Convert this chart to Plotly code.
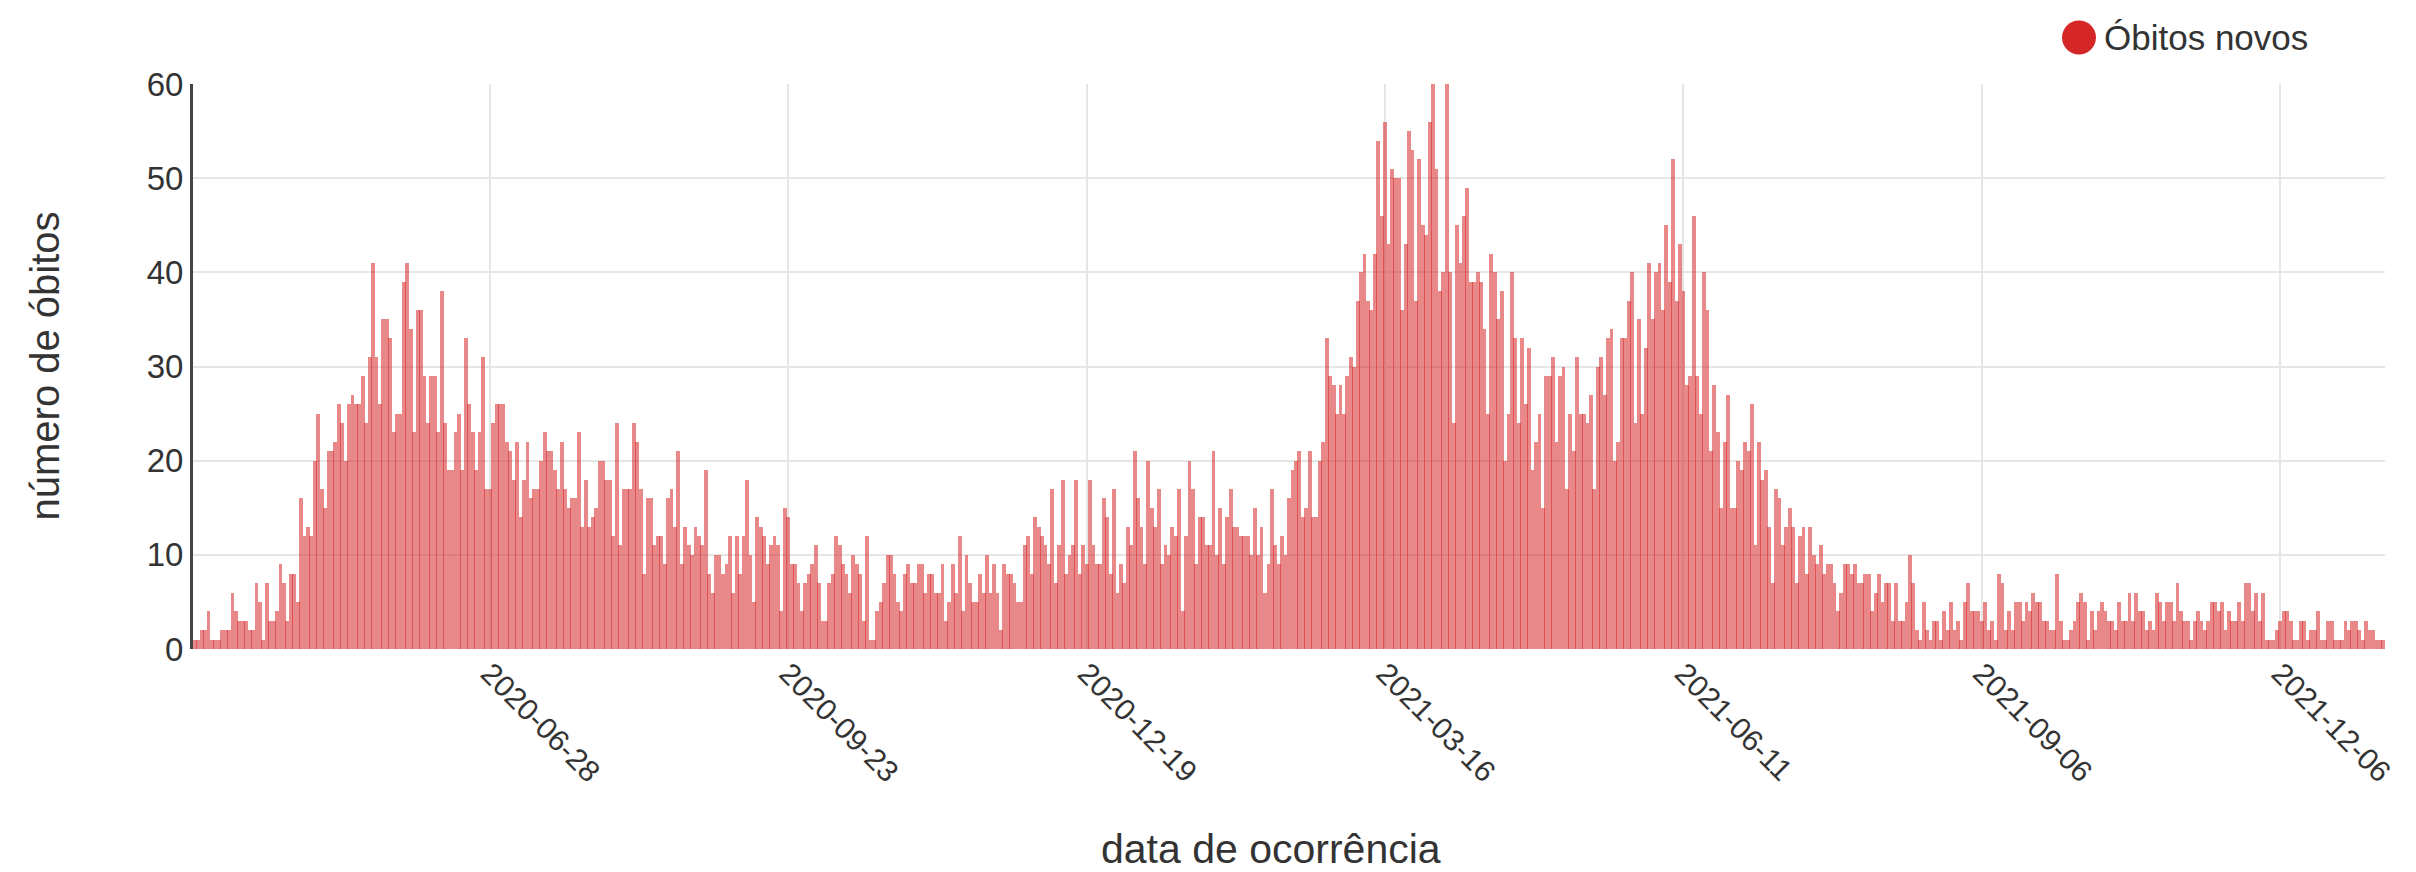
import pandas as pd
import plotly.graph_objects as go

# ---- data -------------------------------------------------------------
# first recorded day and last recorded day (one bar per recorded day)
DATA_INICIO = "2020-04-03"
DATA_FIM = "2022-01-05"
# days without record (no bar / no category on the axis)
DIAS_SEM_REGISTRO = ["2021-10-03", "2021-10-24", "2021-11-14", "2021-11-28"]

# new deaths per recorded day, split by the period between tick labels
obitos_ate_2020_06_27 = [
    1, 1, 2, 2, 4, 1, 1, 1, 2, 2, 2, 6, 4, 3, 3, 3, 2, 2, 7, 5,
    1, 7, 3, 3, 4, 9, 7, 3, 8, 8, 5, 16, 12, 13, 12, 20, 25, 17, 15, 21,
    21, 22, 26, 24, 20, 26, 27, 26, 26, 29, 24, 31, 41, 31, 26, 35, 35, 33, 23, 25,
    25, 39, 41, 34, 23, 36, 36, 29, 24, 29, 29, 23, 38, 24, 19, 19, 23, 25, 19, 33,
    26, 23, 19, 23, 31, 17]
obitos_2020_06_28 = [
    17, 24, 26, 26, 26, 22, 21, 18, 22, 14, 18, 22, 16, 17, 17, 20, 23, 21, 21, 19,
    17, 22, 17, 15, 16, 16, 23, 13, 18, 13, 14, 15, 20, 20, 18, 18, 12, 24, 11, 17,
    17, 17, 24, 22, 17, 8, 16, 16, 11, 12, 12, 9, 16, 17, 13, 21, 9, 13, 11, 10,
    13, 12, 11, 19, 8, 6, 10, 10, 8, 9, 12, 6, 12, 8, 12, 18, 10, 5, 14, 13,
    12, 9, 11, 12, 11, 4, 15]
obitos_2020_09_23 = [
    14, 9, 9, 7, 4, 7, 8, 9, 11, 7, 3, 3, 7, 8, 12, 11, 9, 8, 6, 10,
    9, 8, 3, 12, 1, 1, 4, 5, 7, 10, 10, 8, 5, 4, 8, 9, 7, 7, 9, 9,
    6, 8, 8, 6, 6, 9, 3, 5, 9, 6, 12, 4, 10, 7, 5, 5, 8, 6, 10, 6,
    9, 6, 2, 9, 8, 8, 7, 5, 5, 11, 12, 8, 14, 13, 12, 11, 9, 17, 7, 11,
    18, 8, 10, 11, 18, 8, 11]
obitos_2020_12_19 = [
    9, 18, 11, 9, 9, 16, 14, 8, 17, 6, 9, 7, 13, 11, 21, 16, 13, 9, 20, 15,
    13, 17, 9, 11, 10, 13, 12, 17, 4, 12, 20, 17, 9, 14, 14, 11, 11, 21, 10, 15,
    9, 14, 17, 13, 13, 12, 12, 12, 10, 15, 10, 13, 6, 9, 17, 11, 9, 12, 10, 16,
    19, 20, 21, 14, 15, 21, 14, 14, 20, 22, 33, 29, 28, 25, 28, 25, 29, 31, 30, 37,
    40, 42, 37, 36, 42, 54, 46]
obitos_2021_03_16 = [
    56, 43, 51, 50, 50, 36, 43, 55, 53, 37, 52, 45, 44, 56, 60, 51, 38, 40, 60, 40,
    24, 45, 41, 46, 49, 39, 39, 40, 39, 34, 25, 42, 40, 35, 38, 20, 25, 40, 33, 24,
    33, 26, 32, 19, 22, 25, 15, 29, 29, 31, 22, 29, 30, 17, 25, 21, 31, 25, 25, 24,
    27, 17, 30, 31, 27, 33, 34, 20, 22, 33, 33, 37, 40, 24, 35, 25, 32, 41, 35, 40,
    41, 36, 45, 39, 52, 37, 43]
obitos_2021_06_11 = [
    38, 28, 29, 46, 29, 25, 40, 36, 21, 28, 23, 15, 22, 27, 15, 15, 20, 19, 22, 21,
    26, 11, 22, 18, 19, 13, 7, 17, 16, 11, 13, 15, 13, 7, 12, 13, 8, 13, 10, 9,
    11, 8, 9, 9, 7, 4, 6, 9, 9, 8, 9, 7, 7, 8, 8, 4, 6, 8, 5, 7,
    7, 3, 7, 3, 3, 5, 10, 7, 2, 1, 5, 2, 1, 3, 3, 1, 4, 2, 5, 2,
    3, 1, 5, 7, 4, 4, 4]
obitos_2021_09_06 = [
    3, 5, 2, 3, 1, 8, 7, 2, 4, 2, 5, 5, 3, 5, 4, 6, 5, 5, 3, 3,
    2, 2, 8, 3, 1, 1, 2, 3, 5, 6, 5, 1, 4, 2, 4, 5, 4, 3, 3, 2,
    5, 3, 3, 6, 3, 6, 4, 4, 2, 3, 2, 6, 5, 3, 5, 5, 3, 7, 4, 3,
    3, 1, 3, 4, 3, 2, 3, 5, 5, 4, 5, 2, 4, 3, 3, 5, 3, 7, 7, 4,
    6, 3, 6, 1, 1, 1, 2]
obitos_2021_12_06 = [
    3, 4, 4, 3, 1, 1, 3, 3, 1, 2, 2, 4, 1, 1, 3, 3, 1, 1, 1, 3,
    2, 3, 3, 2, 1, 3, 2, 2, 1, 1, 1]

# tick labels shown on the x axis
rotulos_x = ["2020-06-28", "2020-09-23", "2020-12-19", "2021-03-16",
             "2021-06-11", "2021-09-06", "2021-12-06"]
ticks_y = [0, 10, 20, 30, 40, 50, 60]

# ---- build ------------------------------------------------------------
obitos = (obitos_ate_2020_06_27 + obitos_2020_06_28 + obitos_2020_09_23 +
          obitos_2020_12_19 + obitos_2021_03_16 + obitos_2021_06_11 +
          obitos_2021_09_06 + obitos_2021_12_06)
datas = [d.strftime("%Y-%m-%d") for d in pd.date_range(DATA_INICIO, DATA_FIM)
         if d.strftime("%Y-%m-%d") not in DIAS_SEM_REGISTRO]
assert len(datas) == len(obitos), (len(datas), len(obitos))

VERMELHO = "#d62728"
FONTE = "Arial, 'Liberation Sans', sans-serif"
COR_TEXTO = "#333333"
GRADE = "#e6e6e6"

# plot-area geometry in pixels
L, R, T, B = 185, 39, 76, 231
W, H = 2416, 872
PW, PH = W - L - R, H - T - B


def px_to_paper(x, y):
    return (x - L) / PW, (H - B - y) / PH


leg_cx, leg_cy = px_to_paper(2071, 29.5)
leg_tx, _ = px_to_paper(2094, 29.5)

fig = go.Figure()
fig.add_trace(go.Bar(
    x=datas, y=obitos, name="Óbitos novos",
    marker=dict(color="rgba(214,39,40,0.55)", line=dict(width=0)),
    width=1.12, showlegend=False,
    hovertemplate="%{x}<br>%{y}<extra></extra>",
))

fig.update_layout(
    width=W, height=H,
    margin=dict(l=L, r=R, t=T, b=B, pad=0),
    paper_bgcolor="white", plot_bgcolor="white",
    font=dict(family=FONTE, color=COR_TEXTO, size=33),
    bargap=0,
    xaxis=dict(
        type="category", categoryorder="array", categoryarray=datas,
        range=[-0.5, len(datas) - 0.5],
        tickmode="array", tickvals=rotulos_x, ticktext=rotulos_x,
        tickangle=45, ticks="", showgrid=True, gridcolor=GRADE, gridwidth=2,
        zeroline=False, showline=False,
        tickfont=dict(size=30, color=COR_TEXTO, family=FONTE),
    ),
    yaxis=dict(
        range=[0, 60], tickmode="array", tickvals=ticks_y,
        ticks="", showgrid=True, gridcolor=GRADE, gridwidth=2,
        zeroline=False, showline=True, linecolor="#444444", linewidth=3,
        tickfont=dict(size=33, color=COR_TEXTO, family=FONTE),
    ),
    annotations=[
        dict(text="número de óbitos", xref="paper", yref="paper",
             x=0, y=0.5, xanchor="center", yanchor="middle", xshift=-149,
             textangle=-90, showarrow=False,
             font=dict(size=40, color=COR_TEXTO, family=FONTE)),
        dict(text="data de ocorrência", xref="paper", yref="paper",
             x=0.5, y=0, xanchor="center", yanchor="middle", yshift=-200,
             xshift=-18, showarrow=False,
             font=dict(size=41, color=COR_TEXTO, family=FONTE)),
        dict(text="Óbitos novos", xref="paper", yref="paper",
             x=leg_tx, y=leg_cy,
             xanchor="left", yanchor="middle", showarrow=False,
             font=dict(size=35, color=COR_TEXTO, family=FONTE)),
    ],
    shapes=[
        dict(type="circle", xref="paper", yref="paper",
             xsizemode="pixel", ysizemode="pixel",
             xanchor=leg_cx, yanchor=leg_cy,
             x0=-17, x1=17, y0=-17, y1=17,
             fillcolor=VERMELHO, line=dict(width=0)),
    ],
)

fig.write_html("out.html")
